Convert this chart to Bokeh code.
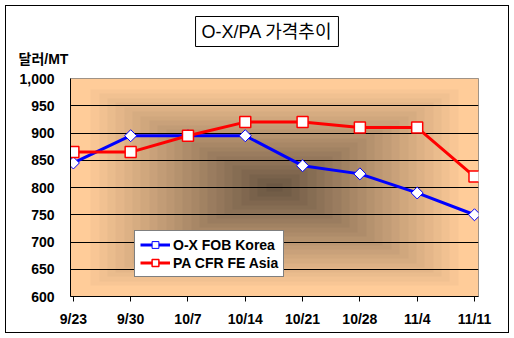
import numpy as np
from bokeh.plotting import figure
from bokeh.models import (Range1d, FixedTicker, NumeralTickFormatter, Legend, LegendItem,
                          Label)
from bokeh.embed import file_html
from bokeh.resources import INLINE

# ---- data ----
dates = ["9/23", "9/30", "10/7", "10/14", "10/21", "10/28", "11/4", "11/11"]
ox_fob_korea = [845, 895, 895, 895, 840, 825, 790, 750]
pa_cfr_fe_asia = [865, 865, 895, 920, 920, 910, 910, 820]
y_ticks = [600, 650, 700, 750, 800, 850, 900, 950, 1000]
title_text = "O-X/PA 가격추이"
unit_text = "달러/MT"

W, H = 514, 338
FL, FR, FT, FB = 70, 478, 78, 296   # frame edges in canvas pixels
FONT = "Liberation Sans, Arial, Noto Sans CJK KR, sans-serif"

xs = list(range(len(dates)))
p = figure(width=W, height=H, output_backend="svg", toolbar_location=None,
           x_range=Range1d(-0.05, len(dates) - 1 + 0.07), y_range=Range1d(600, 1000),
           min_border_left=FL, min_border_right=W - FR, min_border_top=FT,
           min_border_bottom=H - FB)
p.background_fill_color = "white"
p.border_fill_alpha = 0          # let the host's outline (outer chart border) show through
p.outline_line_color = "#808080"
p.styles = {"background": "white", "outline": "1px solid black", "outline-offset": "-6px"}

# ---- rectangular "from center" gradient background ----
GH, GW = 218, 408
yy, xx = np.mgrid[0:GH, 0:GW]
t = np.maximum(np.abs(xx - (GW - 1) / 2) / (GW / 2), np.abs(yy - (GH - 1) / 2) / (GH / 2))
f = np.clip(t / 0.9, 0, 1)
f = np.floor(f * 22) / 22
edge = np.array([255, 204, 153])
center = np.array([108, 88, 68])
img = np.empty((GH, GW), dtype=np.uint32)
view = img.view(dtype=np.uint8).reshape((GH, GW, 4))
for i in range(3):
    view[:, :, i] = (center[i] + (edge[i] - center[i]) * f).astype(np.uint8)
view[:, :, 3] = 255
p.image_rgba(image=[img], x=-0.05, y=600, dw=len(dates) - 1 + 0.12, dh=400, level="image")

# ---- axes ----
p.xgrid.visible = False
p.ygrid.ticker = FixedTicker(ticks=y_ticks[1:-1])
p.ygrid.grid_line_color = "black"

p.xaxis.ticker = FixedTicker(ticks=xs)
p.xaxis.major_label_overrides = {i: d for i, d in enumerate(dates)}
p.xaxis.major_tick_out = 5
p.xaxis.major_tick_in = 0
p.xaxis.minor_tick_line_color = None
p.xaxis.axis_line_color = "black"
p.xaxis.major_tick_line_color = "black"
p.xaxis.major_label_standoff = 9

p.yaxis.ticker = FixedTicker(ticks=y_ticks)
p.yaxis.formatter = NumeralTickFormatter(format="0,0")
p.yaxis.major_tick_out = 0
p.yaxis.major_tick_in = 0
p.yaxis.minor_tick_line_color = None
p.yaxis.axis_line_color = "black"
p.yaxis.major_label_standoff = 16

for ax in (p.xaxis, p.yaxis):
    ax.major_label_text_font = FONT
    ax.major_label_text_font_size = "14px"
    ax.major_label_text_font_style = "bold"
    ax.major_label_text_color = "black"

# ---- series ----
l1 = p.line(xs, ox_fob_korea, line_color="#0000FF", line_width=3)
m1 = p.scatter(xs, ox_fob_korea, marker="square", angle=np.pi / 4, size=8.5,
               fill_color="white", line_color="#0000FF", line_width=1)
l2 = p.line(xs, pa_cfr_fe_asia, line_color="#FF0000", line_width=3)
m2 = p.scatter(xs, pa_cfr_fe_asia, marker="square", size=11,
               fill_color="white", line_color="#FF0000", line_width=1.5)

legend = Legend(items=[LegendItem(label="O-X FOB Korea", renderers=[l1, m1]),
                       LegendItem(label="PA CFR FE Asia", renderers=[l2, m2])],
                location=(134 - FL, FB - 277), orientation="vertical")
legend.label_text_font = FONT
legend.label_text_font_size = "14px"
legend.label_text_font_style = "bold"
legend.label_text_color = "black"
legend.glyph_width = 30
legend.glyph_height = 17
legend.label_height = 17
legend.spacing = 1
legend.padding = 5
legend.margin = 0
legend.label_standoff = 3
legend.border_line_color = "black"
legend.border_line_width = 1
legend.background_fill_color = "white"
legend.background_fill_alpha = 1
p.add_layout(legend, "center")

# ---- title box (with shadow) and unit label in the 'above' panel ----
pad = dict(x=6, y=5)
shadow = Label(x=198.5, y=45, x_units="screen", y_units="screen", text=title_text,
               text_align="center", text_baseline="middle", text_font=FONT,
               text_font_size="18px", text_alpha=0, padding=pad,
               background_fill_color="black", border_line_color="black")
p.add_layout(shadow, "above")
title = Label(x=196.5, y=47, x_units="screen", y_units="screen", text=title_text,
              text_align="center", text_baseline="middle", text_font=FONT,
              text_font_size="18px", text_color="black", padding=pad,
              background_fill_color="white", border_line_color="black", border_line_width=1)
p.add_layout(title, "above")

unit = Label(x=-52, y=-10, x_units="screen", y_units="screen", text=unit_text,
             text_align="left", text_baseline="middle", text_font=FONT,
             text_font_size="14px", text_font_style="bold", text_color="black")
p.add_layout(unit, "above")

open("out.html", "w").write(file_html(p, INLINE))
